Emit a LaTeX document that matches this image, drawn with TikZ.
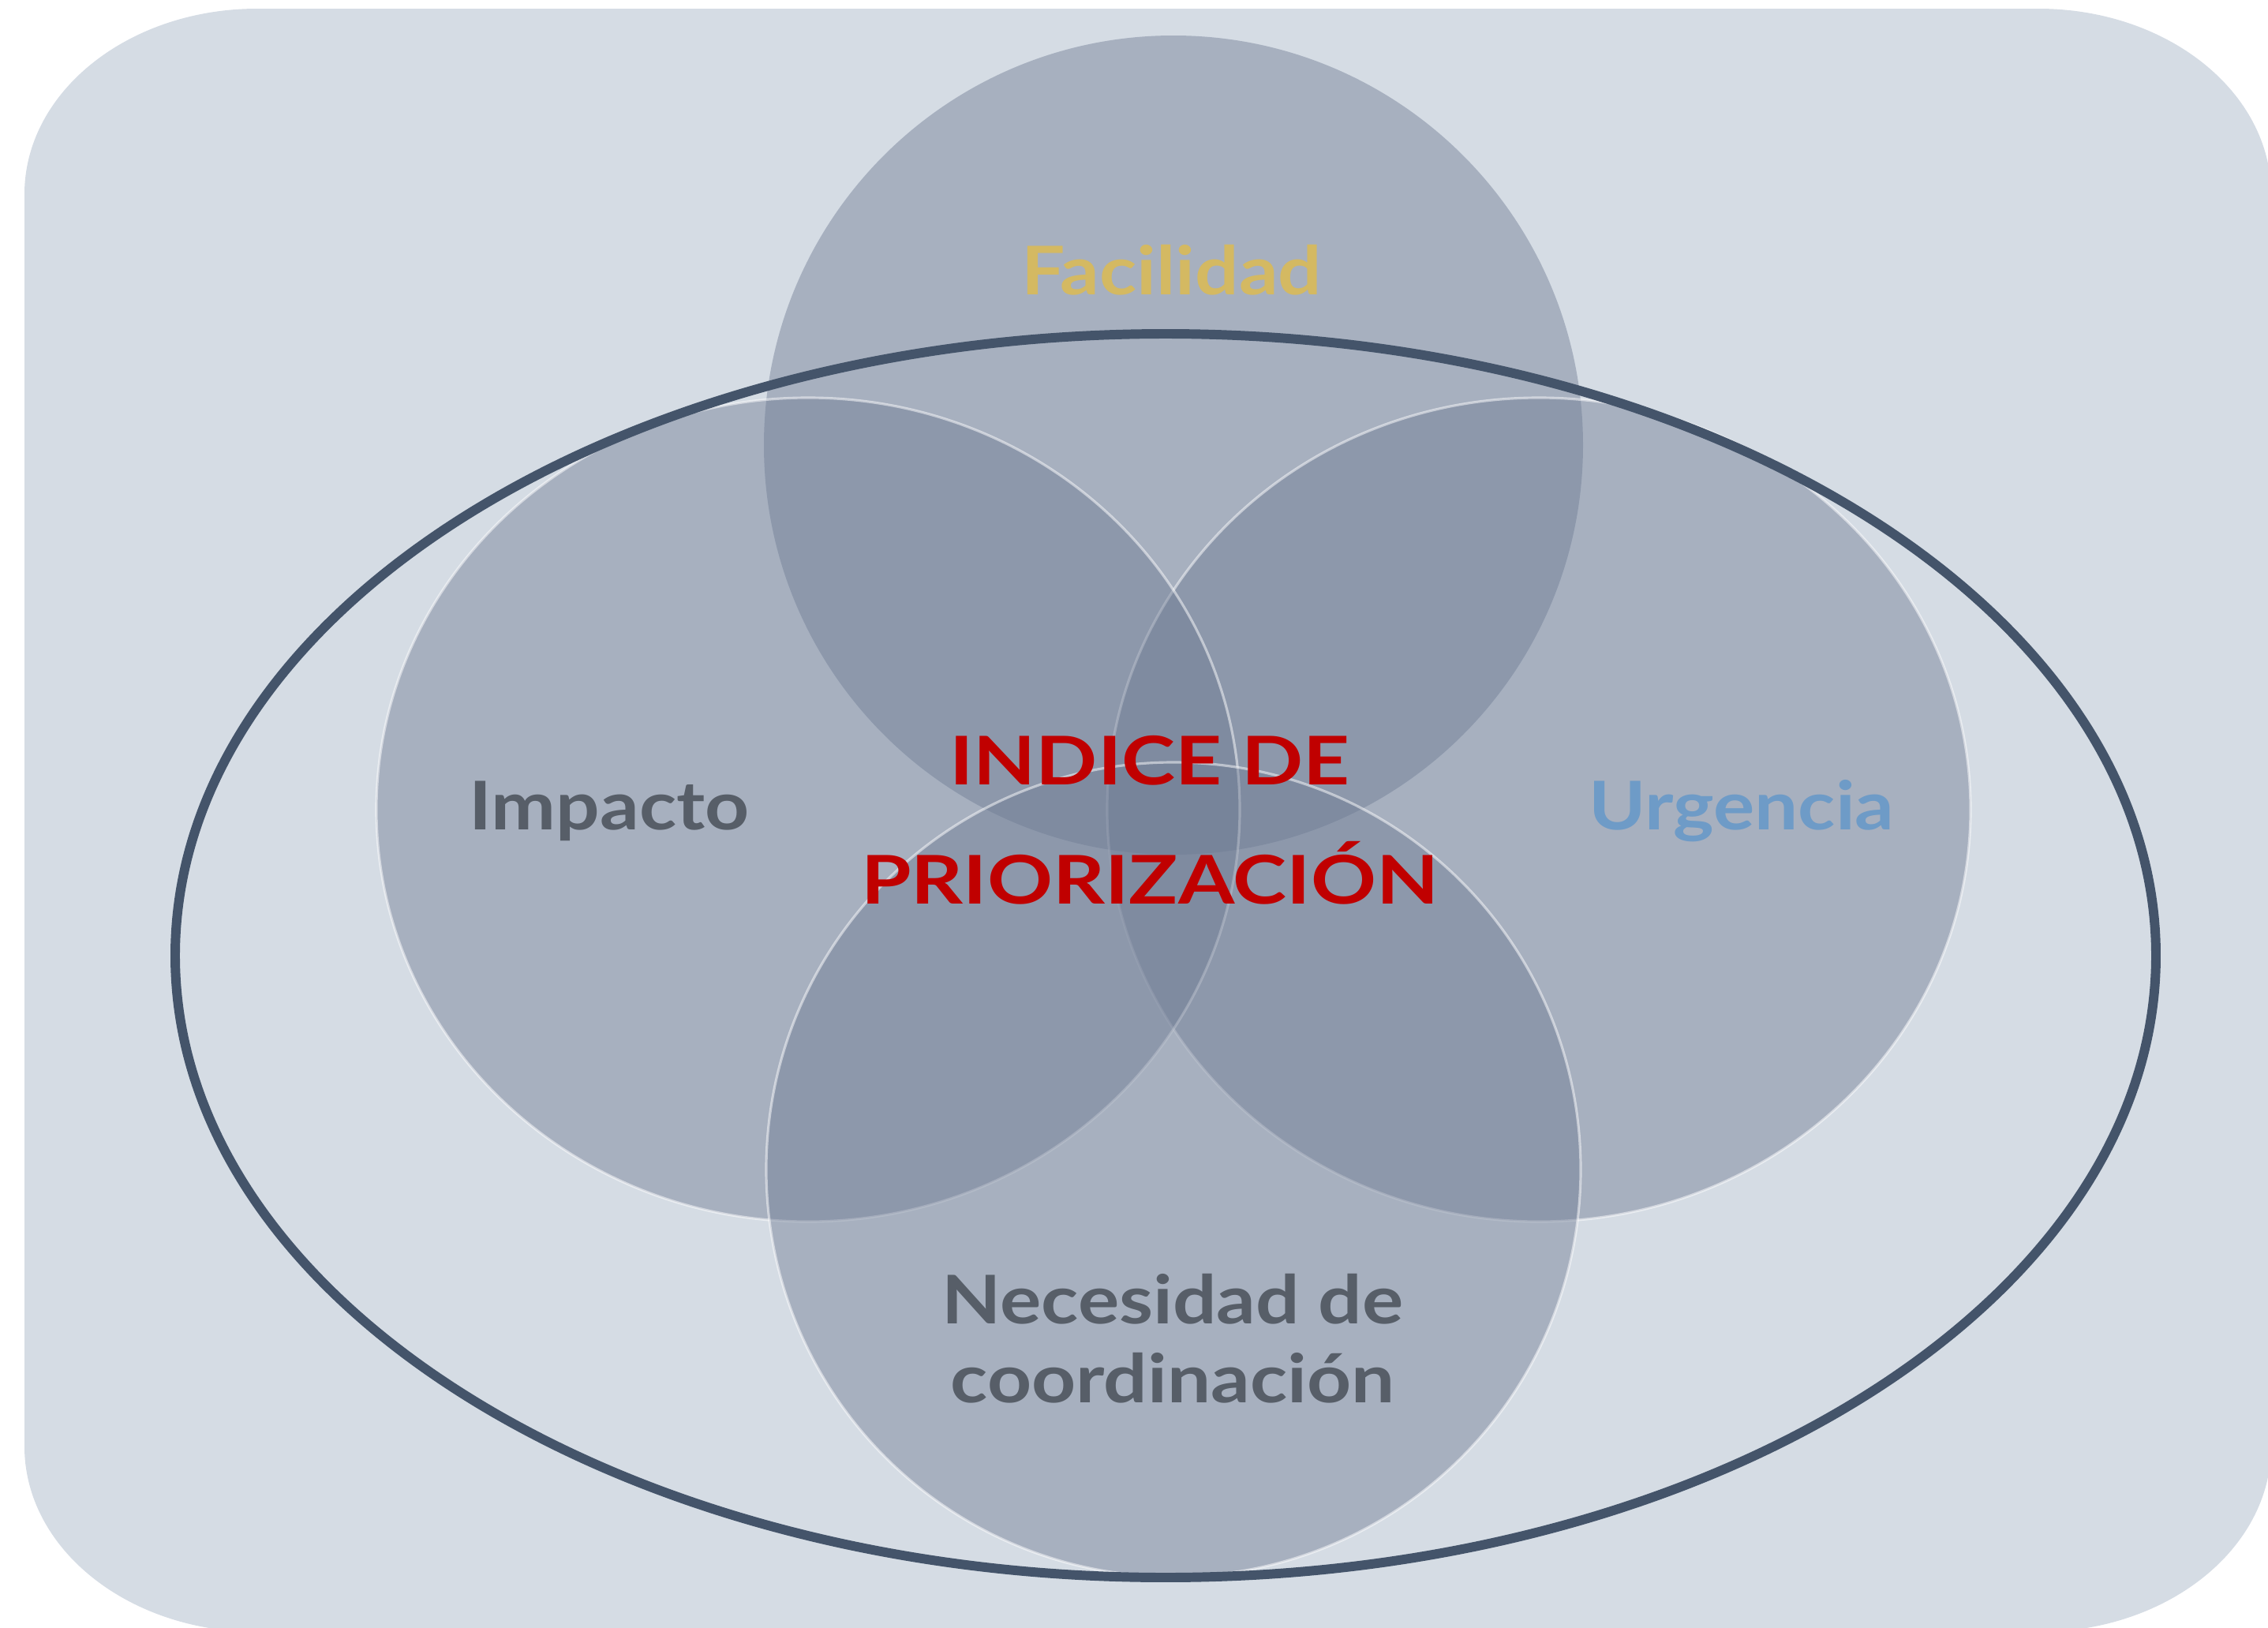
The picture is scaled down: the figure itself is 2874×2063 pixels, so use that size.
\documentclass[tikz,border=0pt]{standalone}
\usepackage{fontspec}
\setmainfont{Lato}

\definecolor{paneblue}{HTML}{D5DCE4}
\definecolor{slateblue}{HTML}{44546A}
\definecolor{setblue}{HTML}{6F7C94}
\definecolor{goldtext}{HTML}{D4B962}
\definecolor{greytext}{HTML}{575E68}
\definecolor{skytext}{HTML}{6E9BC7}
\definecolor{redtext}{HTML}{C00000}

\tikzset{venn/.style={fill=setblue, fill opacity=0.45},
         vennrim/.style={venn, draw=white, draw opacity=0.5, line width=0.9pt},
         vlabel/.style={font=\bfseries\fontsize{24.2}{29}\selectfont, align=center, anchor=base, xscale=1.15}}

\begin{document}
\begin{tikzpicture}[x=0.01cm, y=0.01cm]
            \useasboundingbox (0,0) rectangle (2874,-2063);
            \clip (0,0) rectangle (2874,-2063);
            % rounded panel
            \fill[paneblue] (31,-246) -- (31,-1833) arc[start angle=180, end angle=270, x radius=295, y radius=235]
                -- (2583,-2068) arc[start angle=270, end angle=360, x radius=295, y radius=235]
                -- (2878,-246) arc[start angle=0, end angle=90, x radius=295, y radius=235]
                -- (326,-11) arc[start angle=90, end angle=180, x radius=295, y radius=235] -- cycle;
            % four sets
            \fill[venn] (1487,-564) circle[radius=519];
            \filldraw[vennrim] (1950,-1026) ellipse[x radius=547, y radius=522];
            \filldraw[vennrim] (1024,-1026) ellipse[x radius=547, y radius=522];
            \filldraw[vennrim] (1487,-1482) circle[radius=516];
            % outer ring
            \draw[slateblue, line width=3.4pt] (1477,-1211) ellipse[x radius=1255, y radius=788];
            % labels
            \node[vlabel, text=goldtext] (facil) at (1485,-373) {Facilidad};
            \node[vlabel, text=greytext] (impacto) at (772,-1051) {Impacto};
            \node[vlabel, text=skytext] (urgencia) at (2207,-1051) {Urgencia};
            \node[vlabel, text=redtext, xscale=1.05, font=\bfseries\fontsize{24.2}{42.7}\selectfont] (indice) at (1457,-1145) {INDICE DE\\PRIORIZACIÓN};
            \node[vlabel, text=greytext, font=\bfseries\fontsize{24.2}{28.2}\selectfont] (necesidad) at (1486,-1777) {Necesidad de\\coordinación};
        \end{tikzpicture}
\end{document}
